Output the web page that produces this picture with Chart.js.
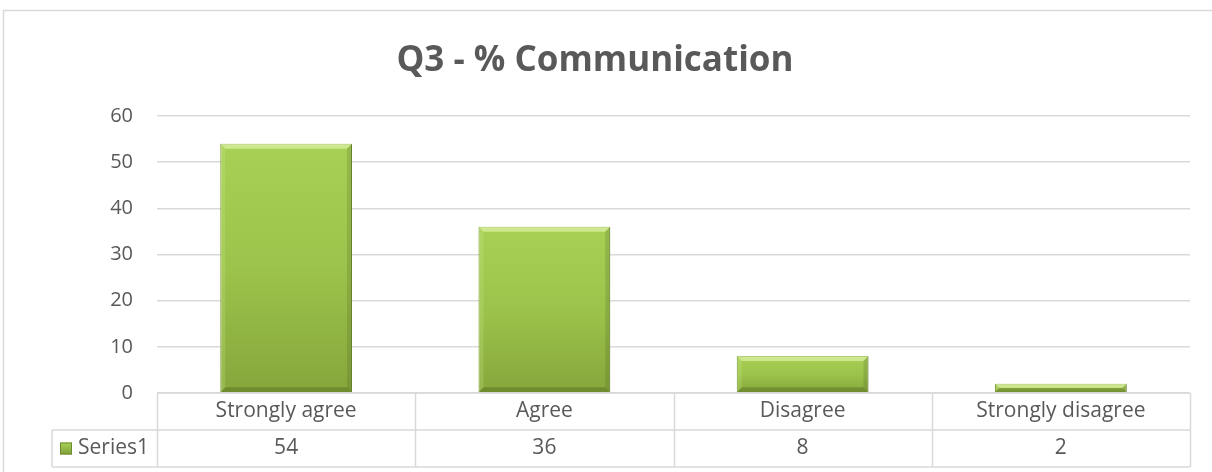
<!DOCTYPE html>
<html>
<head>
<meta charset="utf-8">
<script src="https://cdn.jsdelivr.net/npm/chart.js@4/dist/chart.umd.min.js"></script>
<style>
  html, body { margin: 0; padding: 0; background: #fff; }
  #wrap { position: relative; width: 1212px; height: 472px; }
</style>
</head>
<body>
<div id="wrap"><canvas id="chart"></canvas></div>
<script>
const categories = ['Strongly agree', 'Agree', 'Disagree', 'Strongly disagree'];
const series1 = [54, 36, 8, 2];
const seriesName = 'Series1';
const chartTitle = 'Q3 - % Communication';

const textColor = '#595959';
const lineColor = '#d9d9d9';
const fontFamily = '"Open Sans", Lato, sans-serif';

// Bar face gradient, scaled to each bar through the y scale
function barGradient(context) {
  const chart = context.chart;
  const y = chart.scales.y;
  if (!y || !context.parsed) return '#98bb48';
  const top = y.getPixelForValue(context.parsed.y);
  const base = y.getPixelForValue(0);
  if (!isFinite(top) || !isFinite(base) || top === base) return '#98bb48';
  const g = chart.ctx.createLinearGradient(0, top, 0, base);
  g.addColorStop(0, '#a8d055');
  g.addColorStop(0.5, '#9cc34b');
  g.addColorStop(1, '#86a63b');
  return g;
}

// Light/dark bevel edges on each bar
const bevelPlugin = {
  id: 'bevel',
  afterDatasetsDraw(chart) {
    const ctx = chart.ctx;
    const meta = chart.getDatasetMeta(0);
    ctx.save();
    meta.data.forEach(bar => {
      const w = bar.width, left = bar.x - w / 2, right = bar.x + w / 2;
      const top = bar.y, bottom = bar.base;
      const b = Math.min(5, (bottom - top) / 2);
      // top highlight
      ctx.fillStyle = 'rgba(230,248,180,0.6)';
      ctx.beginPath();
      ctx.moveTo(left, top); ctx.lineTo(right, top);
      ctx.lineTo(right - b, top + b); ctx.lineTo(left + b, top + b);
      ctx.closePath(); ctx.fill();
      // bottom shade
      ctx.fillStyle = 'rgba(60,80,20,0.3)';
      ctx.beginPath();
      ctx.moveTo(left, bottom); ctx.lineTo(right, bottom);
      ctx.lineTo(right - b, bottom - b); ctx.lineTo(left + b, bottom - b);
      ctx.closePath(); ctx.fill();
      // side shades
      ctx.fillStyle = 'rgba(60,80,20,0.18)';
      ctx.beginPath();
      ctx.moveTo(right, top); ctx.lineTo(right, bottom);
      ctx.lineTo(right - b, bottom - b); ctx.lineTo(right - b, top + b);
      ctx.closePath(); ctx.fill();
      ctx.fillStyle = 'rgba(200,230,140,0.25)';
      ctx.beginPath();
      ctx.moveTo(left, top); ctx.lineTo(left, bottom);
      ctx.lineTo(left + b, bottom - b); ctx.lineTo(left + b, top + b);
      ctx.closePath(); ctx.fill();
    });
    ctx.restore();
  }
};

// Outer frame + data table under the plot
const tablePlugin = {
  id: 'dataTable',
  beforeDraw(chart) {
    const ctx = chart.ctx;
    ctx.save();
    ctx.fillStyle = '#fff';
    ctx.fillRect(0, 0, chart.width, chart.height);
    ctx.strokeStyle = lineColor;
    ctx.lineWidth = 1.5;
    ctx.strokeRect(3.5, 10.5, chart.width + 20, chart.height + 20);
    ctx.restore();
  },
  afterDraw(chart) {
    const ctx = chart.ctx;
    const x = chart.scales.x;
    const area = chart.chartArea;
    const rowH = 37;
    const y0 = area.bottom, y1 = y0 + rowH, y2 = y1 + rowH;
    const legendLeft = 52;
    const half = (x.getPixelForValue(1) - x.getPixelForValue(0)) / 2;

    ctx.save();
    ctx.strokeStyle = lineColor;
    ctx.lineWidth = 1.5;
    ctx.beginPath();
    ctx.moveTo(area.left, y0); ctx.lineTo(area.right, y0);
    ctx.moveTo(legendLeft, y1); ctx.lineTo(area.right, y1);
    ctx.moveTo(legendLeft, y2); ctx.lineTo(area.right, y2);
    ctx.moveTo(legendLeft, y1); ctx.lineTo(legendLeft, y2);
    categories.forEach((c, i) => {
      const cx = x.getPixelForValue(i);
      ctx.moveTo(Math.round(cx - half) + 0.5, y0); ctx.lineTo(Math.round(cx - half) + 0.5, y2);
      if (i === categories.length - 1) {
        ctx.moveTo(Math.round(cx + half) + 0.5, y0); ctx.lineTo(Math.round(cx + half) + 0.5, y2);
      }
    });
    ctx.stroke();

    ctx.fillStyle = textColor;
    ctx.font = '21px ' + fontFamily;
    ctx.textAlign = 'center';
    ctx.textBaseline = 'middle';
    categories.forEach((c, i) => {
      const cx = x.getPixelForValue(i);
      ctx.fillText(c, cx, (y0 + y1) / 2);
      ctx.fillText(String(series1[i]), cx, (y1 + y2) / 2);
    });

    // legend key
    const ky = (y1 + y2) / 2;
    const kg = ctx.createLinearGradient(0, ky - 6, 0, ky + 6);
    kg.addColorStop(0, '#aad458');
    kg.addColorStop(1, '#7f9d37');
    ctx.fillStyle = kg;
    ctx.fillRect(60, ky - 6, 12, 12);
    ctx.strokeStyle = '#6e8b30';
    ctx.lineWidth = 1;
    ctx.strokeRect(60.5, ky - 5.5, 11, 11);
    ctx.fillStyle = textColor;
    ctx.textAlign = 'left';
    ctx.fillText(seriesName, 78, ky);
    ctx.restore();
  }
};

new Chart(document.getElementById('chart'), {
  type: 'bar',
  data: {
    labels: categories,
    datasets: [{
      label: seriesName,
      data: series1,
      backgroundColor: barGradient,
      borderColor: '#6e8b30',
      borderWidth: 1,
      categoryPercentage: 1,
      barPercentage: 0.51
    }]
  },
  options: {
    responsive: true,
    maintainAspectRatio: false,
    animation: false,
    layout: { padding: { left: 0, right: 22, top: 0, bottom: 79 } },
    plugins: {
      legend: { display: false },
      tooltip: { enabled: false },
      title: {
        display: true,
        text: chartTitle,
        color: textColor,
        font: { family: fontFamily, size: 35, weight: 'bold' },
        padding: { top: 40, bottom: 34 }
      }
    },
    scales: {
      x: { display: false },
      y: {
        min: 0,
        max: 60,
        ticks: { stepSize: 10, color: textColor, padding: 24, font: { family: fontFamily, size: 20 } },
        grid: { color: lineColor, lineWidth: 1.5, drawTicks: false },
        border: { display: false },
        afterFit(scale) { scale.width = 157; }
      }
    }
  },
  plugins: [tablePlugin, bevelPlugin]
});
</script>
</body>
</html>
